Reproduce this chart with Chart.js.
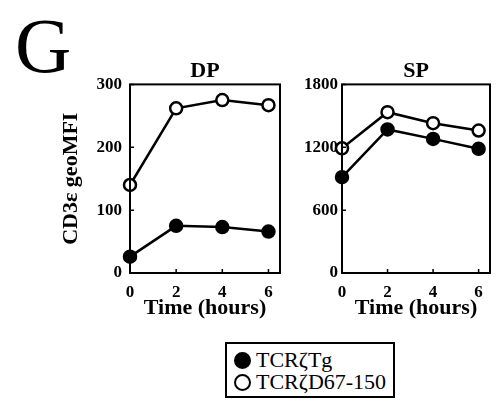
<!DOCTYPE html>
<html>
<head>
<meta charset="utf-8">
<script src="https://cdn.jsdelivr.net/npm/chart.js@4/dist/chart.umd.min.js"></script>
<style>
  body { margin: 0; background: #fff; width: 501px; height: 409px; position: relative; overflow: hidden; font-family: "Liberation Serif", "DejaVu Serif", serif; }
  #panel { position: absolute; left: 15px; top: 7px; font-size: 78px; line-height: 78px; color: #000; }
  canvas { position: absolute; }
  #dp { left: 0; top: 50px; }
  #sp { left: 295px; top: 50px; }
  #legend { position: absolute; left: 225px; top: 342px; width: 170px; height: 56px; box-sizing: border-box; border: 2px solid #000; padding: 5px 0 0 7px; font-family: "Liberation Serif", "DejaVu Serif", serif; font-size: 22px; line-height: 22px; color: #000; }
  .row { display: flex; align-items: center; height: 22px; }
  .mark { width: 17px; height: 17px; border-radius: 50%; box-sizing: border-box; border: 2.5px solid #000; margin-right: 5px; }
</style>
</head>
<body>
<div id="panel">G</div>
<canvas id="dp" width="295" height="280"></canvas>
<canvas id="sp" width="206" height="280"></canvas>
<div id="legend"></div>
<script>
const hours = [0, 2, 4, 6];
const seriesNames = ['TCRζTg', 'TCRζD67-150'];
const seriesFill = ['#000', '#fff'];
const dpTg = [26, 75, 73, 66];
const dpD67 = [140, 262, 275, 267];
const spTg = [915, 1370, 1280, 1185];
const spD67 = [1190, 1535, 1430, 1360];
const dpTicks = [0, 100, 200, 300];
const spTicks = [0, 600, 1200, 1800];

const serif = '"Liberation Serif", "Times New Roman", serif';

// frame round the plot + short inward tick marks
const framePlugin = {
    id: 'frame',
    afterDraw(chart) {
        const { ctx, chartArea: a, scales } = chart;
        ctx.save();
        ctx.strokeStyle = '#000';
        ctx.lineWidth = 2;
        ctx.strokeRect(a.left, a.top, a.right - a.left, a.bottom - a.top);
        ctx.lineWidth = 1.5;
        ctx.beginPath();
        scales.x.ticks.forEach(t => {
            const px = scales.x.getPixelForValue(t.value);
            ctx.moveTo(px, a.bottom);
            ctx.lineTo(px, a.bottom - 4);
        });
        scales.y.ticks.forEach(t => {
            const py = scales.y.getPixelForValue(t.value);
            ctx.moveTo(a.left, py);
            ctx.lineTo(a.left + 4, py);
        });
        ctx.stroke();
        ctx.restore();
    }
};

function makeDataset(i, values) {
    return {
        label: seriesNames[i],
        data: hours.map((h, k) => ({ x: h, y: values[k] })),
        borderColor: '#000',
        borderWidth: 2.5,
        backgroundColor: seriesFill[i],
        pointBackgroundColor: seriesFill[i],
        pointBorderColor: '#000',
        pointBorderWidth: 2.5,
        pointRadius: 6,
        tension: 0,
        clip: false
    };
}

function makeChart(id, title, tg, d67, yTicks, yWidth, yPad, padRight, yTitle) {
    return new Chart(document.getElementById(id), {
        type: 'line',
        data: { datasets: [makeDataset(1, d67), makeDataset(0, tg)] },
        options: {
            responsive: false,
            animation: false,
            layout: { padding: { left: 0, right: padRight, top: 0, bottom: 0 } },
            plugins: {
                legend: { display: false },
                tooltip: { enabled: false },
                title: {
                    display: true,
                    text: title,
                    fullSize: false,
                    color: '#000',
                    font: { family: serif, size: 22, weight: 'bold' },
                    padding: { top: 8, bottom: 0 }
                }
            },
            scales: {
                x: {
                    type: 'linear',
                    min: 0,
                    max: 6.5,
                    afterBuildTicks: s => { s.ticks = hours.map(v => ({ value: v })); },
                    afterFit: s => { s.height = 57; },
                    grid: { display: false, drawTicks: false },
                    border: { display: false },
                    ticks: { color: '#000', padding: 9, callback: v => String(v), font: { family: serif, size: 17, weight: 'bold' } },
                    title: {
                        display: true,
                        text: 'Time (hours)',
                        color: '#000',
                        font: { family: serif, size: 22, weight: 'bold' },
                        padding: { top: 0, bottom: 8 }
                    }
                },
                y: {
                    min: 0,
                    max: yTicks[yTicks.length - 1],
                    afterBuildTicks: s => { s.ticks = yTicks.map(v => ({ value: v })); },
                    afterFit: s => { s.width = yWidth; },
                    grid: { display: false, drawTicks: false },
                    border: { display: false },
                    ticks: { color: '#000', padding: yPad, callback: v => String(v), font: { family: serif, size: 17, weight: 'bold' } },
                    title: {
                        display: !!yTitle,
                        text: yTitle || '',
                        color: '#000',
                        font: { family: serif, size: 22, weight: 'bold' },
                        padding: { top: 58, bottom: 0 }
                    }
                }
            }
        },
        plugins: [framePlugin]
    });
}

makeChart('dp', 'DP', dpTg, dpD67, dpTicks, 130, 8, 15, 'CD3ε geoMFI');
makeChart('sp', 'SP', spTg, spD67, spTicks, 47, 4, 11, null);

// legend built from the series names
const legendEl = document.getElementById('legend');
seriesNames.forEach((name, i) => {
    const row = document.createElement('div');
    row.className = 'row';
    row.innerHTML = `<span class="mark" style="background:${seriesFill[i]}"></span><span>${name}</span>`;
    legendEl.appendChild(row);
});
</script>
</body>
</html>
